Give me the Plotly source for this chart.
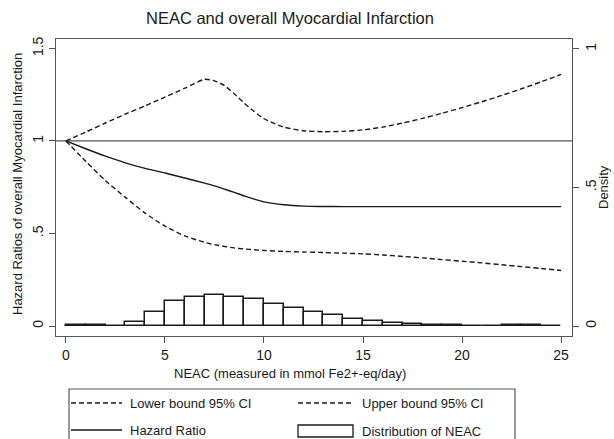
import plotly.graph_objects as go

# ---- data ----
neac = [0, 1, 2, 3, 4, 5, 6, 7, 7.5, 8, 8.5, 9, 9.5, 10, 11, 12, 13, 14, 15,
        16, 17, 18, 19, 20, 21, 22, 23, 24, 25]
upper_ci = [1.0, 1.048, 1.097, 1.145, 1.19, 1.237, 1.285, 1.333, 1.325, 1.30,
            1.255, 1.205, 1.16, 1.12, 1.075, 1.055, 1.05, 1.052, 1.06, 1.075,
            1.097, 1.122, 1.15, 1.18, 1.212, 1.246, 1.282, 1.32, 1.36]
lower_ci = [1.0, 0.89, 0.785, 0.695, 0.61, 0.54, 0.487, 0.452, 0.44, 0.43,
            0.422, 0.416, 0.412, 0.408, 0.403, 0.40, 0.397, 0.394, 0.39, 0.384,
            0.376, 0.368, 0.359, 0.35, 0.341, 0.331, 0.321, 0.311, 0.30]
hazard = [1.0, 0.958, 0.918, 0.882, 0.852, 0.827, 0.80, 0.772, 0.757, 0.74,
          0.722, 0.703, 0.686, 0.671, 0.655, 0.648, 0.646, 0.645, 0.645, 0.645,
          0.645, 0.645, 0.645, 0.645, 0.645, 0.645, 0.645, 0.645, 0.645]

bin_left = list(range(0, 25))
density = [0.003, 0.003, 0.0008, 0.015, 0.05, 0.09, 0.105, 0.112, 0.106, 0.096,
           0.078, 0.065, 0.05, 0.039, 0.026, 0.019, 0.012, 0.008, 0.004, 0.002,
           0.001, 0.001, 0.002, 0.002, 0.001]

x_ticks = [0, 5, 10, 15, 20, 25]
y_ticks = [0, 0.5, 1, 1.5]
y_ticktext = ["0", ".5", "1", "1.5"]
y2_ticks = [0, 0.5, 1]
y2_ticktext = ["0", ".5", "1"]

# ---- geometry ----
W, H = 614, 439
L, R, T, B = 56, 572, 39, 336
pw, ph = R - L, B - T


def px(x):
    return (x - L) / pw


def py(y):
    return (B - y) / ph


FONT = "Liberation Sans, Arial, Helvetica, sans-serif"
INK = "#1a1a1a"
FRAME = "#555555"
DASH = "5px,3px"
LW = 1.4

fig = go.Figure()

fig.add_trace(go.Bar(
    x=[b + 0.5 for b in bin_left], y=density, width=1, yaxis="y2",
    marker=dict(color="white", line=dict(color=INK, width=1.5)),
    showlegend=False, hoverinfo="skip"))

fig.add_trace(go.Scatter(x=neac, y=upper_ci, mode="lines", showlegend=False,
                         line=dict(color=INK, width=LW, dash=DASH, shape="spline", smoothing=0.6)))
fig.add_trace(go.Scatter(x=neac, y=lower_ci, mode="lines", showlegend=False,
                         line=dict(color=INK, width=LW, dash=DASH, shape="spline", smoothing=0.6)))
fig.add_trace(go.Scatter(x=neac, y=hazard, mode="lines", showlegend=False,
                         line=dict(color=INK, width=LW, shape="spline", smoothing=0.6)))

shapes = []
# reference line at HR = 1
shapes.append(dict(type="line", xref="paper", yref="y", x0=0, x1=1, y0=1, y1=1,
                   line=dict(color=FRAME, width=1.3), layer="below"))

# legend box
shapes.append(dict(type="rect", xref="paper", yref="paper",
                   x0=px(69), x1=px(515), y0=py(389), y1=py(450),
                   line=dict(color=FRAME, width=1.2), fillcolor="white"))
# legend samples
shapes.append(dict(type="line", xref="paper", yref="paper", x0=px(71), x1=px(122),
                   y0=py(403), y1=py(403), line=dict(color=INK, width=LW, dash=DASH)))
shapes.append(dict(type="line", xref="paper", yref="paper", x0=px(298), x1=px(353),
                   y0=py(403), y1=py(403), line=dict(color=INK, width=LW, dash=DASH)))
shapes.append(dict(type="line", xref="paper", yref="paper", x0=px(71), x1=px(122),
                   y0=py(430), y1=py(430), line=dict(color=INK, width=LW)))
shapes.append(dict(type="rect", xref="paper", yref="paper", x0=px(298), x1=px(353),
                   y0=py(425), y1=py(437), line=dict(color=INK, width=1.3), fillcolor="white"))

annotations = [
    dict(text="NEAC and overall Myocardial Infarction", xref="paper", yref="paper",
         x=px(290), y=py(18), xanchor="center", yanchor="middle", showarrow=False,
         font=dict(size=16.5, color=INK, family=FONT)),
    dict(text="NEAC (measured in mmol Fe2+-eq/day)", xref="paper", yref="paper",
         x=px(290), y=py(373), xanchor="center", yanchor="middle", showarrow=False,
         font=dict(size=13, color=INK, family=FONT)),
    dict(text="Hazard Ratios of overall Myocardial Infarction", xref="paper", yref="paper",
         x=px(17), y=py(184), xanchor="center", yanchor="middle", showarrow=False,
         textangle=-90, font=dict(size=13, color=INK, family=FONT)),
    dict(text="Density", xref="paper", yref="paper",
         x=px(603), y=py(187), xanchor="center", yanchor="middle", showarrow=False,
         textangle=-90, font=dict(size=13, color=INK, family=FONT)),
    dict(text="Lower bound 95% CI", xref="paper", yref="paper", x=px(128), y=py(403),
         xanchor="left", yanchor="middle", showarrow=False,
         font=dict(size=13, color=INK, family=FONT)),
    dict(text="Upper bound 95% CI", xref="paper", yref="paper", x=px(360), y=py(403),
         xanchor="left", yanchor="middle", showarrow=False,
         font=dict(size=13, color=INK, family=FONT)),
    dict(text="Hazard Ratio", xref="paper", yref="paper", x=px(128), y=py(430),
         xanchor="left", yanchor="middle", showarrow=False,
         font=dict(size=13, color=INK, family=FONT)),
    dict(text="Distribution of NEAC", xref="paper", yref="paper", x=px(360), y=py(431),
         xanchor="left", yanchor="middle", showarrow=False,
         font=dict(size=13, color=INK, family=FONT)),
]

TICKFONT = dict(size=14, color=INK, family=FONT)

fig.update_layout(
    width=W, height=H,
    margin=dict(l=L, r=W - R, t=T, b=H - B, autoexpand=False),
    paper_bgcolor="white", plot_bgcolor="white",
    font=dict(family=FONT, size=13, color=INK),
    showlegend=False, bargap=0,
    xaxis=dict(range=[-0.5, 25.55], tickvals=x_ticks, ticks="outside", ticklen=6,
               tickcolor=FRAME, showgrid=False, zeroline=False, showline=True,
               linecolor=FRAME, linewidth=1.3, mirror=True, tickfont=TICKFONT),
    yaxis=dict(range=[-0.054, 1.551], tickvals=y_ticks, ticktext=y_ticktext,
               tickangle=-90, ticks="outside", ticklen=6, tickcolor=FRAME,
               showgrid=False, zeroline=False, showline=True, linecolor=FRAME,
               linewidth=1.3, mirror=True, tickfont=TICKFONT),
    yaxis2=dict(range=[-0.036, 1.036], overlaying="y", side="right",
                tickvals=y2_ticks, ticktext=y2_ticktext, tickangle=-90,
                ticks="outside", ticklen=6, tickcolor=FRAME, showgrid=False,
                zeroline=False, showline=False, tickfont=TICKFONT),
    shapes=shapes, annotations=annotations,
)

fig.write_html("out.html", config={"displayModeBar": False},
               post_script="document.body.style.margin='0';document.body.style.overflow='hidden';")
